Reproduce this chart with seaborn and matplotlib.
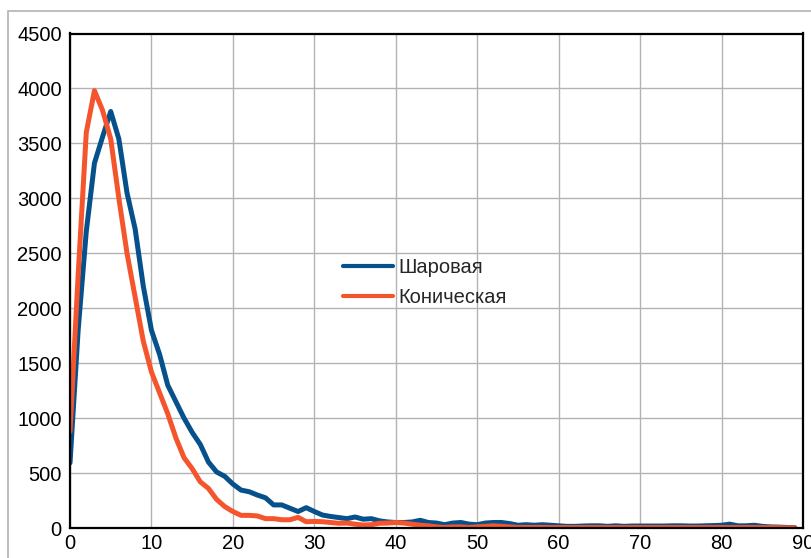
import numpy as np
import pandas as pd
import matplotlib
matplotlib.use("Agg")
import matplotlib.pyplot as plt
import seaborn as sns
from matplotlib.patches import Rectangle

# values, one point per integer x (0..89)
x_vals = list(range(90))
sharovaya = [592, 1800, 2700, 3320, 3560, 3790, 3540, 3050, 2720, 2200,
             1800, 1580, 1300, 1150, 1000, 870, 760, 600, 510, 470,
             400, 345, 330, 300, 275, 210, 210, 180, 150, 185,
             150, 118, 105, 95, 85, 100, 80, 85, 65, 55,
             50, 50, 55, 70, 50, 45, 30, 45, 50, 35,
             30, 45, 50, 50, 40, 25, 30, 25, 30, 25,
             20, 15, 15, 18, 20, 20, 15, 20, 15, 18,
             18, 18, 18, 18, 20, 20, 18, 18, 20, 22,
             25, 35, 20, 20, 25, 15, 10, 8, 5, 3]
konicheskaya = [877, 2300, 3600, 3980, 3800, 3540, 3000, 2500, 2100, 1700,
                1420, 1230, 1040, 820, 640, 540, 420, 360, 260, 195,
                150, 115, 115, 110, 85, 85, 75, 75, 97, 57,
                60, 57, 50, 43, 45, 35, 27, 30, 43, 45,
                50, 45, 35, 25, 20, 10, 5, 10, 10, 5,
                10, 15, 20, 15, 10, 5, 5, 5, 5, 4,
                4, 4, 4, 4, 4, 4, 4, 4, 4, 4,
                4, 4, 4, 4, 4, 4, 4, 4, 4, 4,
                4, 4, 4, 4, 4, 4, 4, 3, 2, 2]
series_names = ["Шаровая", "Коническая"]
series_colors = ["#06508b", "#f5552d"]
x_ticks = list(range(0, 91, 10))
y_ticks = list(range(0, 4501, 500))

df = pd.DataFrame({
    "x": x_vals * 2,
    "y": sharovaya + konicheskaya,
    "series": [series_names[0]] * len(x_vals) + [series_names[1]] * len(x_vals),
})

sns.set_style("white")
plt.rcParams['font.family'] = ['Liberation Sans', 'DejaVu Sans']
plt.rcParams['font.size'] = 14.5

fig = plt.figure(figsize=(8.12, 5.58), dpi=100)
# outer chart border (cut off at right/bottom in the reference)
fig.add_artist(Rectangle((8 / 812, -0.1), 1.2, 1 - 11.5 / 558 + 0.1,
                         transform=fig.transFigure, fill=False,
                         edgecolor="#b3b3b3", linewidth=1.2))
ax = fig.add_axes([70 / 812, 1 - 528 / 558, 733 / 812, 494.5 / 558])

sns.lineplot(data=df, x="x", y="y", hue="series", hue_order=series_names,
             palette=series_colors, linewidth=3.6, ax=ax, legend=True)

ax.set_xlim(0, 90)
ax.set_ylim(0, 4500)
ax.set_xticks(x_ticks)
ax.set_yticks(y_ticks)
ax.grid(True, color="#b3b3b3", linewidth=1)
ax.set_axisbelow(True)
ax.set_xlabel("")
ax.set_ylabel("")
ax.tick_params(length=0, labelsize=14.5, colors="black")
ax.tick_params(axis="y", pad=6)
ax.tick_params(axis="x", pad=4)
for s in ax.spines.values():
    s.set_visible(True)
    s.set_color("black")
    s.set_linewidth(1.6)

leg = ax.legend(loc="center left", bbox_to_anchor=(0.372, 0.497), frameon=False,
                borderpad=0, borderaxespad=0, handlelength=2.5,
                handletextpad=0.25, labelspacing=0.55, fontsize=14.5)
for h in leg.get_lines():
    h.set_linewidth(3.0)

fig.savefig("out.png", dpi=100)
